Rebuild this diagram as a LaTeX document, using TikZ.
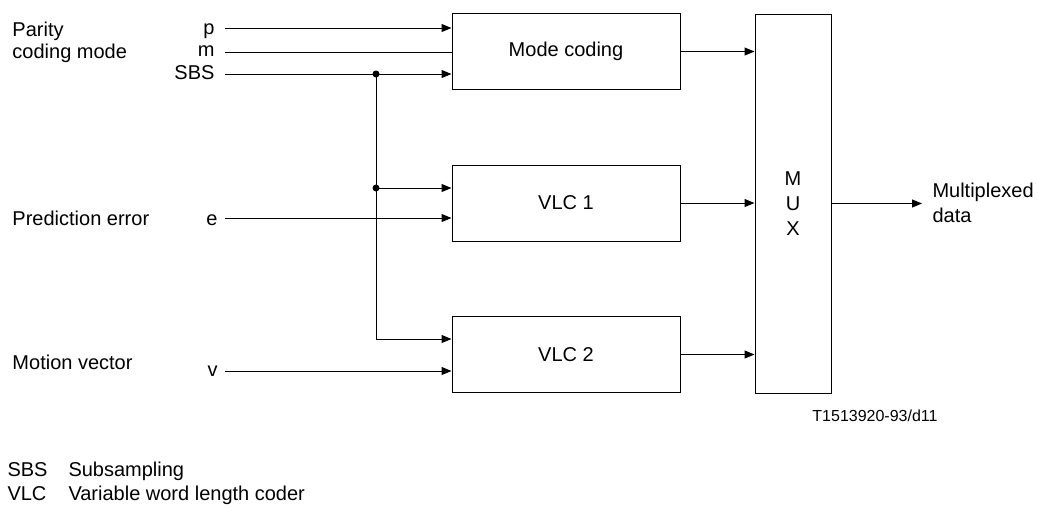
\documentclass[tikz,border=0pt]{standalone}
\usepackage{fontspec}
\setmainfont{Liberation Sans}
\usetikzlibrary{positioning, arrows.meta}
\newcommand{\signalarrow}{-{Triangle[length=10pt,width=8pt]}}
\newcommand{\labelfont}{\fontsize{20}{22}\selectfont}

\begin{document}
\begin{tikzpicture}[x=1pt, y=-1pt, line width=1pt, font=\labelfont,
    block/.style={draw, inner sep=0pt, minimum width=228pt, minimum height=76pt},
    junction/.style={circle, fill, inner sep=0pt, minimum size=7pt}]
\useasboundingbox (0,0) rectangle (1038,507);

            % blocks
            \node[block] (mode) at (566,51.5) {Mode coding};
            \node[block] (vlcone) at (566,203) {VLC 1};
            \node[block] (vlctwo) at (566,354.5) {VLC 2};
            \node[draw, inner sep=0pt, minimum width=76pt, minimum height=379pt, align=center,
                font=\fontsize{20}{25}\selectfont] (mux) at (793,203.5) {M\\U\\X};

            % input labels
            \node[anchor=west, align=left, inner sep=0pt] (parity) at (12,42) {Parity\\coding mode};
            \node[anchor=base west, inner sep=0pt] (prederr) at (12,225) {Prediction error};
            \node[anchor=base west, inner sep=0pt] (motion) at (12,369) {Motion vector};
            \node[anchor=base east, inner sep=0pt] (plbl) at (215,34) {p};
            \node[anchor=base east, inner sep=0pt] (mlbl) at (215,56) {m};
            \node[anchor=base east, inner sep=0pt] (sbslbl) at (215,79) {SBS};
            \node[anchor=base east, inner sep=0pt] (elbl) at (218,225) {e};
            \node[anchor=base east, inner sep=0pt] (vlbl) at (218,376) {v};

            % inputs
            \coordinate (pin) at (225,28);
            \coordinate (min) at (225,52);
            \coordinate (sin) at (225,74);
            \coordinate (ein) at (225,218);
            \coordinate (vin) at (225,371);
            \draw[\signalarrow] (pin) -- (pin -| mode.west);
            \draw (min) -- (min -| mode.west);
            \draw[\signalarrow] (sin) -- (sin -| mode.west);
            \node[junction] (split) at (376,74) {};
            \node[junction] (tap) at (376,188) {};
            \coordinate (bend) at (376,339);
            \draw[\signalarrow] (split.center) -- (bend) -- (bend -| vlctwo.west);
            \draw[\signalarrow] (tap.center) -- (tap.center -| vlcone.west);
            \draw[\signalarrow] (ein) -- (ein -| vlcone.west);
            \draw[\signalarrow] (vin) -- (vin -| vlctwo.west);

            % outputs
            \draw[\signalarrow] (mode.east) -- (mode.east -| mux.west);
            \draw[\signalarrow] (vlcone.east) -- (vlcone.east -| mux.west);
            \draw[\signalarrow] (vlctwo.east) -- (vlctwo.east -| mux.west);
            \coordinate (out) at (922,203.5);
            \draw[\signalarrow] (mux.east) -- (out);
            \node[anchor=west, align=left, inner sep=0pt, font=\fontsize{20}{25}\selectfont]
                (muxout) at (932,203) {Multiplexed\\data};

            % figure number and legend
            \node[anchor=base, inner sep=0pt, font=\fontsize{16}{18}\selectfont] (figno) at (875,421) {T1513920-93/d11};
            \node[anchor=base west, inner sep=0pt] (legsbs) at (7,476) {SBS};
            \node[anchor=base west, inner sep=0pt] (legsbstxt) at (68,476) {Subsampling};
            \node[anchor=base west, inner sep=0pt] (legvlc) at (7,500) {VLC};
            \node[anchor=base west, inner sep=0pt] (legvlctxt) at (68,500) {Variable word length coder};
        \end{tikzpicture}
\end{document}
